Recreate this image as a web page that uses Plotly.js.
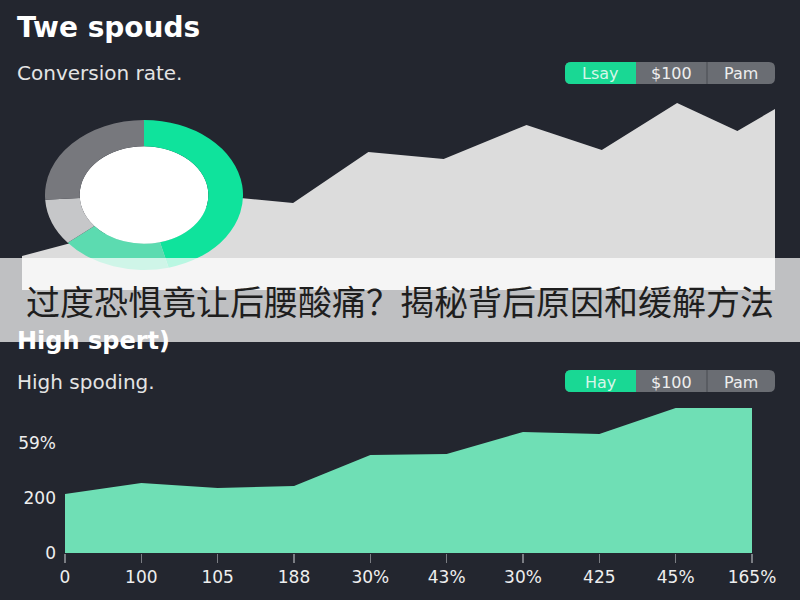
<!DOCTYPE html>
<html>
<head>
<meta charset="utf-8">
<script src="https://cdn.plot.ly/plotly-3.0.1.min.js"></script>
<style>
  html, body { margin: 0; padding: 0; background: #23262f; }
  #wrap { position: relative; width: 800px; height: 600px; overflow: hidden; }
  #main, #over { position: absolute; left: 0; top: 0; width: 800px; height: 600px; }
  #donut { position: absolute; left: 69px; top: 120px; width: 150px; height: 150px;
           transform: scaleX(1.32); transform-origin: 50% 50%; }
  #over { pointer-events: none; }
</style>
</head>
<body>
<div id="wrap">
  <div id="main"></div>
  <div id="donut"></div>
  <div id="over"></div>
</div>
<script>
// ---------- data ----------
const topX = [0, 29, 36, 46, 56, 67, 77, 87, 95, 100];
const topValues = [34, 92, 87, 138, 131, 165, 140, 187, 159, 181];

const donutLabels = ["A", "B", "C", "D"];
const donutValues = [46, 18, 10, 26];

const bottomCategories = [0, 1, 2, 3, 4, 5, 6, 7, 8, 9];
const bottomValues = [215, 255, 236, 244, 356, 360, 440, 433, 527, 527];
const bottomTickLabels = ["0", "100", "105", "188", "30%", "43%", "30%", "425", "45%", "165%"];
const yTickVals = [0, 200, 400];
const yTickLabels = ["0", "200", "59%"];

const buttons1 = ["Lsay", "$100", "Pam"];
const buttons2 = ["Hay", "$100", "Pam"];

// ---------- helpers ----------
const W = 800, H = 600;
const fx = x => x / W;
const fy = y => 1 - y / H;
const FONT = "DejaVu Sans, Verdana, sans-serif";

function roundRectPath(x0, y0, x1, y1, rl, rr) {
  const p = (x, y) => fx(x).toFixed(5) + "," + fy(y).toFixed(5);
  return "M" + p(x0 + rl, y0) +
    " L" + p(x1 - rr, y0) +
    " Q" + p(x1, y0) + " " + p(x1, y0 + rr) +
    " L" + p(x1, y1 - rr) +
    " Q" + p(x1, y1) + " " + p(x1 - rr, y1) +
    " L" + p(x0 + rl, y1) +
    " Q" + p(x0, y1) + " " + p(x0, y1 - rl) +
    " L" + p(x0, y0 + rl) +
    " Q" + p(x0, y0) + " " + p(x0 + rl, y0) + " Z";
}

const shapes = [];
const annotations = [];

function buttonGroup(labels, yTop, yBot) {
  const xs = [565, 636, 707, 775];
  shapes.push({type: "path", xref: "paper", yref: "paper",
    path: roundRectPath(xs[0], yTop, xs[3], yBot, 6, 6),
    fillcolor: "#6a6d73", line: {width: 0}});
  shapes.push({type: "path", xref: "paper", yref: "paper",
    path: roundRectPath(xs[0], yTop, xs[1], yBot, 6, 0),
    fillcolor: "#19d894", line: {width: 0}});
  shapes.push({type: "line", xref: "paper", yref: "paper",
    x0: fx(xs[2]), x1: fx(xs[2]), y0: fy(yTop), y1: fy(yBot),
    line: {color: "#54575d", width: 1.5}});
  labels.forEach((t, i) => {
    annotations.push({xref: "paper", yref: "paper", showarrow: false,
      x: fx((xs[i] + xs[i + 1]) / 2), y: fy((yTop + yBot) / 2 + 1),
      xanchor: "center", yanchor: "middle", text: t,
      font: {family: FONT, size: 16, color: i === 0 ? "#d6f6e9" : "#eeeeee"}});
  });
}
buttonGroup(buttons1, 62, 84);
buttonGroup(buttons2, 370, 392);

function label(text, x, y, size, color, bold) {
  annotations.push({xref: "paper", yref: "paper", showarrow: false,
    x: fx(x), y: fy(y), xanchor: "left", yanchor: "middle",
    text: bold ? "<b>" + text + "</b>" : text,
    font: {family: FONT, size: size, color: color}});
}
label("Twe spouds", 15, 28, 28, "#ffffff", true);
label("Conversion rate.", 15, 73, 20, "#e4e4e4", false);
label("High spoding.", 15, 382, 20, "#e4e4e4", false);

// ---------- main figure ----------
const traces = [
  {type: "scatter", mode: "lines", x: topX, y: topValues,
   fill: "tozeroy", fillcolor: "#dcdcdc", line: {width: 0, color: "#dcdcdc"},
   xaxis: "x", yaxis: "y", hoverinfo: "skip"},
  {type: "scatter", mode: "lines", x: bottomCategories, y: bottomValues,
   fill: "tozeroy", fillcolor: "#6fdfb5", line: {width: 0, color: "#6fdfb5"},
   xaxis: "x2", yaxis: "y2", hoverinfo: "skip"}
];

const layout = {
  width: W, height: H,
  margin: {l: 0, r: 0, t: 0, b: 0},
  paper_bgcolor: "#23262f", plot_bgcolor: "rgba(0,0,0,0)",
  showlegend: false,
  xaxis: {domain: [fx(22), fx(775)], range: [0, 100], visible: false, fixedrange: true},
  yaxis: {domain: [fy(290), fy(90)], range: [0, 200], visible: false, fixedrange: true},
  xaxis2: {domain: [fx(65), fx(752)], range: [0, 9], anchor: "y2",
    tickmode: "array", tickvals: bottomCategories, ticktext: bottomTickLabels,
    showgrid: false, zeroline: false, showline: false,
    ticks: "outside", ticklen: 9, tickwidth: 1.5, tickcolor: "#7a7d83",
    tickfont: {family: FONT, size: 17, color: "#eeeeee"}, fixedrange: true},
  yaxis2: {domain: [fy(553), fy(400)], range: [0, 556.4], anchor: "x2",
    tickmode: "array", tickvals: yTickVals, ticktext: yTickLabels,
    showgrid: false, zeroline: false, showline: false, ticks: "",
    ticklabelstandoff: 8,
    tickfont: {family: FONT, size: 17, color: "#eeeeee"}, fixedrange: true},
  shapes: shapes,
  annotations: annotations
};

Plotly.newPlot("main", traces, layout, {staticPlot: true});

// ---------- donut ----------
const holeFrac = 0.65;
Plotly.newPlot("donut", [{
  type: "pie", labels: donutLabels, values: donutValues, hole: holeFrac,
  sort: false, direction: "clockwise", rotation: 0,
  textinfo: "none", hoverinfo: "skip",
  marker: {colors: ["#0fe39c", "#5cdbb0", "#c6c7c9", "#77787d"], line: {width: 0}}
}], {
  width: 150, height: 150, margin: {l: 0, r: 0, t: 0, b: 0},
  paper_bgcolor: "rgba(0,0,0,0)", plot_bgcolor: "rgba(0,0,0,0)", showlegend: false,
  shapes: [{type: "circle", xref: "paper", yref: "paper", layer: "below",
    x0: 0.5 - holeFrac / 2, x1: 0.5 + holeFrac / 2,
    y0: 0.5 - holeFrac / 2, y1: 0.5 + holeFrac / 2,
    fillcolor: "#ffffff", line: {width: 0}}]
}, {staticPlot: true});

// ---------- banner overlay ----------
Plotly.newPlot("over", [], {
  width: W, height: H, margin: {l: 0, r: 0, t: 0, b: 0},
  paper_bgcolor: "rgba(0,0,0,0)", plot_bgcolor: "rgba(0,0,0,0)",
  xaxis: {visible: false}, yaxis: {visible: false},
  shapes: [{type: "rect", xref: "paper", yref: "paper",
    x0: 0, x1: 1, y0: fy(342), y1: fy(258),
    fillcolor: "rgba(255,255,255,0.71)", line: {width: 0}}],
  annotations: [
    {xref: "paper", yref: "paper", showarrow: false, x: 0.5, y: fy(300),
     xanchor: "center", yanchor: "middle",
     text: "过度恐惧竟让后腰酸痛？揭秘背后原因和缓解方法",
     font: {family: "Noto Sans CJK SC", size: 34, color: "#1e1e1e"}},
    {xref: "paper", yref: "paper", showarrow: false, x: fx(15), y: fy(341),
     xanchor: "left", yanchor: "middle", text: "<b>High spert)</b>",
     font: {family: FONT, size: 24, color: "#ffffff"}}
  ]
}, {staticPlot: true});
</script>
</body>
</html>
